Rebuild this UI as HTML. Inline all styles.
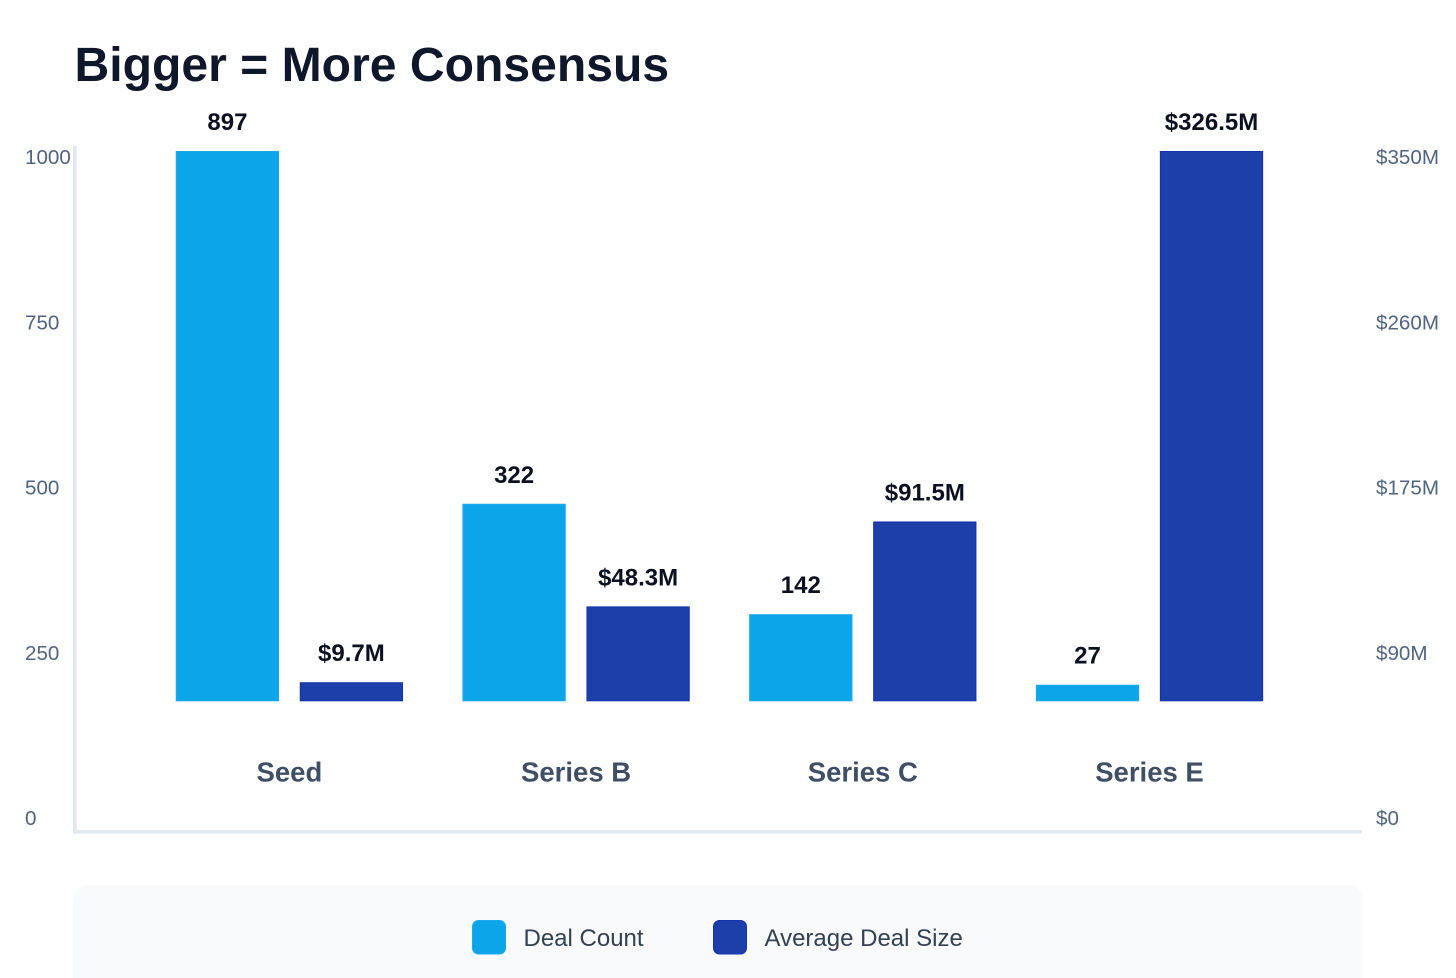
<!DOCTYPE html>
<html lang="en">
<head>
<meta charset="utf-8">
<title>Bigger = More Consensus</title>
<style>
  html, body { margin: 0; padding: 0; background: #ffffff; }
  body { width: 1456px; height: 978px; overflow: hidden; position: relative; font-family: "Liberation Sans", Arial, sans-serif; }
  svg { position: absolute; left: 0; top: 0; display: block; }
  text { font-family: "Liberation Sans", Arial, sans-serif; }
</style>
</head>
<body>
<svg id="chart" width="1456" height="978" viewBox="0 0 1456 978" xmlns="http://www.w3.org/2000/svg">
  <rect x="0" y="0" width="1456" height="978" fill="#ffffff"/>
  <text x="74.5" y="81" font-size="48.1" font-weight="700" fill="#0f172a">Bigger = More Consensus</text>
  <rect x="73" y="146" width="3.7" height="687.5" fill="#e2e8f0"/>
  <rect x="73" y="830" width="1289" height="3.5" fill="#e2e8f0"/>
  <g id="left-ticks"></g>
  <g id="right-ticks"></g>
  <g id="bars"></g>
  <g id="value-labels"></g>
  <g id="category-labels"></g>
  <g>
    <rect x="73" y="885" width="1289" height="120" rx="14" ry="14" fill="#f8fafc"/>
    <g>
      <rect x="472.5" y="920.5" width="33" height="33.5" rx="6" ry="6" fill="#0ca5ea" stroke="#1aa9ee" stroke-width="1"/>
      <text x="523.5" y="946" font-size="24" fill="#334155">Deal Count</text>
    </g>
    <g>
      <rect x="713.5" y="920.5" width="33" height="33.5" rx="6" ry="6" fill="#1c3faa" stroke="#1233ad" stroke-width="1"/>
      <text x="764.5" y="946" font-size="24" fill="#334155">Average Deal Size</text>
    </g>
  </g>
</svg>
<script>
const categories = ["Seed", "Series B", "Series C", "Series E"];
const dealCount = [897, 322, 142, 27];
const avgDealSize = [9.7, 48.3, 91.5, 326.5];
const dealCountLabels = ["897", "322", "142", "27"];
const avgDealSizeLabels = ["$9.7M", "$48.3M", "$91.5M", "$326.5M"];
const leftTickValues = [0, 250, 500, 750, 1000];
const rightTickLabels = ["$0", "$90M", "$175M", "$260M", "$350M"];

const SVG_NS = "http://www.w3.org/2000/svg";
const barBase = 701.3;
const barMaxHeight = 550.3;
const countDomainMax = 897;
const sizeDomainMax = 280;
const groupStart = 289.4;
const groupStep = 286.7;
const barWidth = 103.3;
const barGap = 20.7;

function groupCenter(i) { return groupStart + groupStep * i; }
function countHeight(v) { return Math.min(v / countDomainMax, 1) * barMaxHeight; }
function sizeHeight(v) { return Math.min(v / sizeDomainMax, 1) * barMaxHeight; }
function leftTickY(v) { return 825 - (v / 1000) * 661; }
function rightTickY(i) { return 825 - i * 165.25; }

function makeSvg(tag, props, parent, content) {
  const el = document.createElementNS(SVG_NS, tag);
  for (const key of Object.keys(props)) { el.setAttribute(key, props[key]); }
  if (content !== undefined) { el.textContent = content; }
  parent.appendChild(el);
  return el;
}

const leftTicksGroup = document.getElementById("left-ticks");
const rightTicksGroup = document.getElementById("right-ticks");
const barsGroup = document.getElementById("bars");
const valueGroup = document.getElementById("value-labels");
const categoryGroup = document.getElementById("category-labels");

leftTickValues.forEach(function (v) {
  const t = makeSvg("text", { x: 25, y: leftTickY(v), "font-size": 20.6, fill: "#4f6482" }, leftTicksGroup, String(v));
  
  
});

rightTickLabels.forEach(function (label, i) {
  const t = makeSvg("text", { x: 1376, y: rightTickY(i), "font-size": 20.6, fill: "#4f6482" }, rightTicksGroup, label);
  
  
});

categories.forEach(function (cat, i) {
  const c = groupCenter(i);
  const leftX = c - barGap / 2 - barWidth;
  const rightX = c + barGap / 2;
  const h1 = countHeight(dealCount[i]);
  const h2 = sizeHeight(avgDealSize[i]);

  const b1 = makeSvg("rect", { x: leftX + 0.5, y: barBase - h1 + 0.5, width: barWidth - 1, height: h1 - 1, fill: "#0ca5ea", stroke: "#1aa9ee", "stroke-width": 1 }, barsGroup);
  
  

  const b2 = makeSvg("rect", { x: rightX + 0.5, y: barBase - h2 + 0.5, width: barWidth - 1, height: h2 - 1, fill: "#1c3faa", stroke: "#1233ad", "stroke-width": 1 }, barsGroup);
  
  

  const l1 = makeSvg("text", { x: leftX + barWidth / 2, y: barBase - h1 - 21, "font-size": 24, "font-weight": 700, fill: "#0b1120", "text-anchor": "middle" }, valueGroup, dealCountLabels[i]);
  
  

  const l2 = makeSvg("text", { x: rightX + barWidth / 2, y: barBase - h2 - 21, "font-size": 24, "font-weight": 700, fill: "#0b1120", "text-anchor": "middle" }, valueGroup, avgDealSizeLabels[i]);
  
  

  const cl = makeSvg("text", { x: c, y: 781.5, "font-size": 27.5, "font-weight": 700, fill: "#3f4f66", "text-anchor": "middle" }, categoryGroup, cat);
  
  
});
</script>
</body>
</html>
